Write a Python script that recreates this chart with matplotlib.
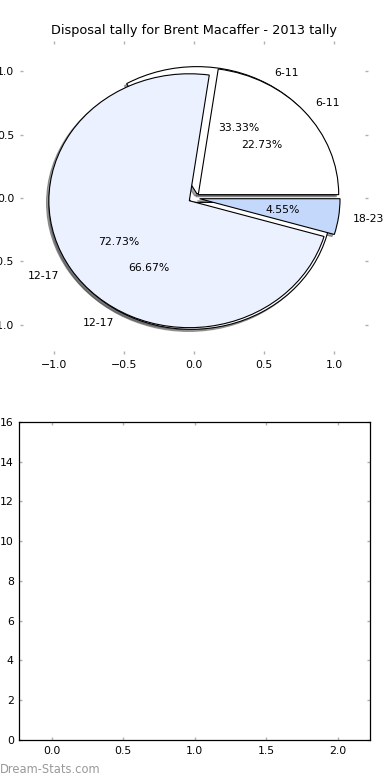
import matplotlib
matplotlib.use('Agg')
import matplotlib.pyplot as plt

# disposal counts per time bracket
labels_a = ['6-11', '12-17', '18-23']
tally_a = [5, 16, 1]
labels_b = ['6-11', '12-17']
tally_b = [1, 2]

colors_a = ['white', '#ebf1fe', '#c4d8fc']
colors_b = ['white', 'white']

title = 'Disposal tally for Brent Macaffer - 2013 tally'
fs = 7.8

fig = plt.figure(figsize=(3.9, 7.8), dpi=100)
ax = fig.add_axes([0.051, 0.546, 0.893, 0.402])
ax2 = fig.add_axes([0.0496, 0.0513, 0.8994, 0.408])

wp = {'edgecolor': 'black', 'linewidth': 0.8}
sh = {'ox': -0.012, 'oy': -0.012}
ax.pie(tally_b, labels=labels_b, colors=colors_b, explode=[0.04] * len(tally_b),
       autopct='%.2f%%', shadow=sh, wedgeprops=wp, textprops={'fontsize': fs})
ax.pie(tally_a, labels=labels_a, colors=colors_a, explode=[0.04] * len(tally_a),
       autopct='%.2f%%', shadow=sh, wedgeprops=wp, textprops={'fontsize': fs})
ax.set_aspect('auto')
ax.set_frame_on(False)
ax.set_xlim(-1.24, 1.24)
ax.set_ylim(-1.23, 1.24)
ax.set_xticks([-1.0, -0.5, 0.0, 0.5, 1.0])
ax.set_yticks([-1.0, -0.5, 0.0, 0.5, 1.0])
ax.set_title(title, fontsize=9.3, pad=5)

ax2.set_xlim(-0.225, 2.225)
ax2.set_ylim(0, 16)
ax2.set_xticks([0.0, 0.5, 1.0, 1.5, 2.0])
ax2.set_yticks(range(0, 17, 2))

for a in (ax, ax2):
    a.tick_params(direction='in', length=2.5, width=1, color='#b0b0b0',
                  top=True, right=True, labelsize=fs, pad=4)
    for s in a.spines.values():
        s.set_linewidth(0.9)

fig.text(0.0, 0.005, 'Dream-Stats.com', fontsize=8.3, color='#999999',
         ha='left', va='bottom')

fig.savefig('out.png', dpi=100)
